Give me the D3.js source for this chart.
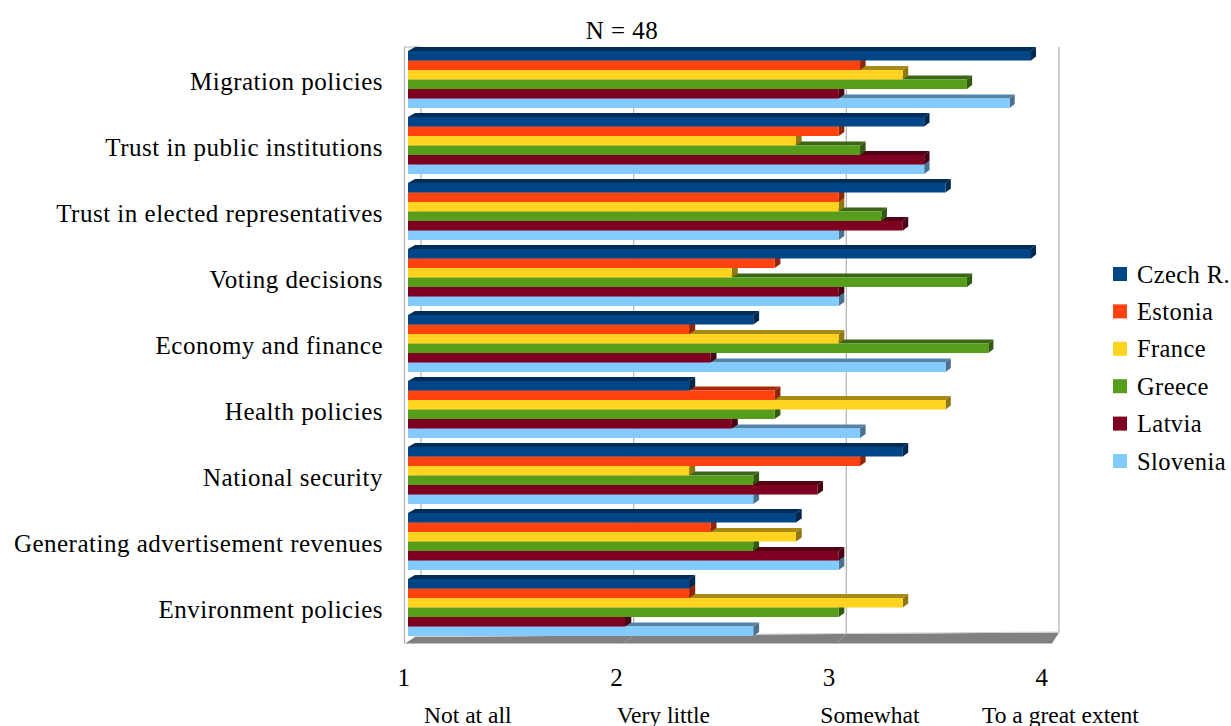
<!DOCTYPE html>
<html>
<head>
<meta charset="utf-8">
<script src="https://cdn.jsdelivr.net/npm/d3@7"></script>
<style>
  html, body { margin: 0; padding: 0; background: #fff; }
  svg { display: block; }
  text { font-family: "Liberation Serif", "Times New Roman", serif; fill: #000; }
</style>
</head>
<body>
<svg id="chart" width="1231" height="726"></svg>
<script>
// Survey areas (rows) and countries (series)
const categories = [
  "Migration policies",
  "Trust in public institutions",
  "Trust in elected representatives",
  "Voting decisions",
  "Economy and finance",
  "Health policies",
  "National security",
  "Generating advertisement revenues",
  "Environment policies"
];
const seriesNames = ["Czech R.", "Estonia", "France", "Greece", "Latvia", "Slovenia"];

// Mean scores per area, one array per country
const czech    = [3.9, 3.4, 3.5, 3.9, 2.6, 2.3, 3.3, 2.8, 2.3];
const estonia  = [3.1, 3.0, 3.0, 2.7, 2.3, 2.7, 3.1, 2.4, 2.3];
const france   = [3.3, 2.8, 3.0, 2.5, 3.0, 3.5, 2.3, 2.8, 3.3];
const greece   = [3.6, 3.1, 3.2, 3.6, 3.7, 2.7, 2.6, 2.6, 3.0];
const latvia   = [3.0, 3.4, 3.3, 3.0, 2.4, 2.5, 2.9, 3.0, 2.0];
const slovenia = [3.8, 3.4, 3.0, 3.0, 3.5, 3.1, 2.6, 3.0, 2.6];

const tickValues = [1, 2, 3, 4];
const scaleWords = ["Not at all", "Very little", "Somewhat", "To a great extent"];
const titleText = "N = 48";

const seriesValues = [czech, estonia, france, greece, latvia, slovenia];
const palette = ["#004586", "#ff420e", "#ffd320", "#579d1c", "#7e0021", "#83caff"];

const svg = d3.select("#chart");

// ---- scales ----
const xBar   = d3.scaleLinear().domain([1, 4]).range([411.3, 1052.4]);  // bar front plane
const xWall  = d3.scaleLinear().domain([1, 4]).range([421, 1059]);      // back wall
const xFront = d3.scaleLinear().domain([1, 4]).range([404, 1042]);      // axis labels

const yGroup = d3.scaleBand().domain(categories)
  .range([46.5, 640.5]).paddingInner(0.136).paddingOuter(0.068);
const ySeries = d3.scaleBand().domain(seriesNames).range([0, yGroup.bandwidth()]);
const color = d3.scaleOrdinal().domain(seriesNames).range(palette);

const barStart = 408;
const depthY = 4;
const depthX = x => 7 - 2 * (x - barStart) / 623;   // slight perspective

// ---- walls and floor ----
const wallTop = 47;
const floorBack = x => 637 - 4.5 * (x - 415) / 644;  // back edge of the floor
const floorFront = 643.5;
const gridColor = "#b3b3b3";

const walls = svg.append("g").attr("class", "walls");

// left side wall
walls.append("path")
  .attr("d", `M404.5,${floorFront} L404.5,${wallTop} L421,${wallTop}`)
  .attr("fill", "none").attr("stroke", gridColor).attr("stroke-width", 1.2);

// back wall gridlines, one per tick
walls.selectAll("line.grid").data(tickValues).join("line")
  .attr("class", "grid")
  .attr("x1", d => xWall(d)).attr("x2", d => xWall(d))
  .attr("y1", wallTop).attr("y2", d => floorBack(xWall(d)))
  .attr("stroke", gridColor).attr("stroke-width", 1.2);

// floor slab
walls.append("path")
  .attr("d", `M415,${floorBack(415)} L1059,${floorBack(1059)} L1052,${floorFront} L405,${floorFront} Z`)
  .attr("fill", "#808080");
walls.append("line")
  .attr("x1", 415).attr("x2", 1059)
  .attr("y1", floorBack(415) - 0.5).attr("y2", floorBack(1059) - 0.5)
  .attr("stroke", "#d0d0d0").attr("stroke-width", 1);

// gridlines continuing across the floor
walls.selectAll("line.floorgrid").data(tickValues.slice(1, 3)).join("line")
  .attr("class", "floorgrid")
  .attr("x1", d => xWall(d)).attr("y1", d => floorBack(xWall(d)))
  .attr("x2", d => xWall(d) - 10).attr("y2", floorFront)
  .attr("stroke", "#9c9c9c").attr("stroke-width", 1);

// ---- bars ----
const bars = svg.append("g").attr("class", "bars");

categories.forEach((cat, ci) => {
  const g = bars.append("g").attr("transform", `translate(0,${yGroup(cat)})`);
  // draw from the lowest bar upward so each bar hides the top of the one below
  const order = seriesNames.map((s, si) => si).reverse();
  order.forEach(si => {
    const name = seriesNames[si];
    const v = seriesValues[si][ci];
    const y = ySeries(name);
    const h = ySeries.bandwidth();
    const x1 = xBar(v);
    const base = d3.color(color(name));
    const topCol = base.darker(1.2).formatHex();
    const sideCol = base.darker(1.6).formatHex();
    const dx0 = depthX(barStart), dx1 = depthX(x1);

    g.append("path")
      .attr("d", `M${barStart},${y} L${barStart + dx0},${y - depthY} L${x1 + dx1},${y - depthY} L${x1},${y} Z`)
      .attr("fill", topCol);
    g.append("path")
      .attr("d", `M${x1},${y} L${x1 + dx1},${y - depthY} L${x1 + dx1},${y + h - depthY} L${x1},${y + h} Z`)
      .attr("fill", sideCol);
    g.append("rect")
      .attr("x", barStart).attr("y", y)
      .attr("width", x1 - barStart).attr("height", h)
      .attr("fill", color(name));
  });
});

// ---- category labels ----
const labelStyle = sel => sel
  .attr("font-size", 25).attr("letter-spacing", 0.5);

svg.append("g").selectAll("text").data(categories).join("text")
  .attr("x", 383)
  .attr("y", d => yGroup(d) + yGroup.bandwidth() / 2 + 2)
  .attr("text-anchor", "end")
  .attr("dominant-baseline", "central")
  .text(d => d)
  .call(labelStyle);

// ---- value axis labels ----
svg.append("g").selectAll("text").data(tickValues).join("text")
  .attr("x", d => xFront(d))
  .attr("y", 677)
  .attr("text-anchor", "middle")
  .attr("dominant-baseline", "central")
  .text(d => d)
  .call(labelStyle);

// verbal meaning of the scale points, one line under the numbers
const wordShift = [20, 0, -9, -60];
svg.append("g").selectAll("text").data(scaleWords).join("text")
  .attr("x", (d, i) => xFront(tickValues[i]) + wordShift[i])
  .attr("y", 715)
  .attr("dominant-baseline", "central")
  .attr("font-size", 23.5)
  .text(d => d);

// ---- title ----
svg.append("text")
  .attr("x", 622).attr("y", 30)
  .attr("text-anchor", "middle")
  .attr("dominant-baseline", "central")
  .text(titleText)
  .call(labelStyle);

// ---- legend ----
const legend = svg.append("g").selectAll("g").data(seriesNames).join("g")
  .attr("transform", (d, i) => `translate(1113,${274 + i * 37.4})`);
legend.append("rect")
  .attr("x", 0).attr("y", -7).attr("width", 14).attr("height", 14)
  .attr("fill", d => color(d));
legend.append("text")
  .attr("x", 24).attr("y", 0)
  .attr("dominant-baseline", "central")
  .attr("font-size", 24.5).attr("letter-spacing", 0.4)
  .text(d => d);
</script>
</body>
</html>
